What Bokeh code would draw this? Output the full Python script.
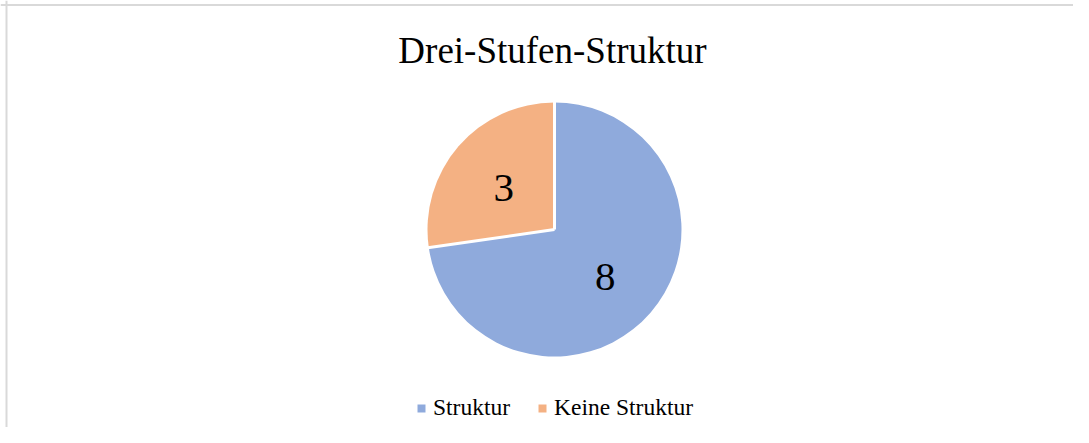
import numpy as np
from bokeh.plotting import figure
from bokeh.models import Range1d, ColumnDataSource, Label, Legend, LegendItem, Span
from bokeh.embed import file_html
from bokeh.resources import INLINE
from bokeh.core.properties import value

# ---- data ----
title_text = "Drei-Stufen-Struktur"
categories = ["Struktur", "Keine Struktur"]
counts = [8, 3]
colors = ["#8FAADC", "#F4B183"]

# ---- layout (pixel coordinates; y measured downward from the top) ----
W, H = 1073, 427


def py(y):
    return H - y


FONT = "Liberation Serif"
cx, cy, R = 554, py(229), 127

p = figure(width=W, height=H,
           x_range=Range1d(0, W), y_range=Range1d(0, H),
           output_backend="svg", toolbar_location=None, min_border=0,
           x_axis_location=None, y_axis_location=None,
           outline_line_color=None, background_fill_color="white",
           border_fill_color="white")
p.grid.visible = False

# chart border (top and left visible in the reference)
p.add_layout(Span(location=py(4.5), dimension="width", line_color="#D9D9D9", line_width=2))
p.add_layout(Span(location=6, dimension="height", line_color="#D9D9D9", line_width=2))

total = float(sum(counts))
cum = np.concatenate([[0.0], np.cumsum(counts)]) / total * 2 * np.pi
start = np.pi / 2 - cum[:-1]
end = np.pi / 2 - cum[1:]
mid = (start + end) / 2

src = ColumnDataSource(dict(
    cat=categories, val=counts, color=colors,
    start=start, end=end,
    lx=cx + 0.53 * R * np.cos(mid), ly=cy + 0.53 * R * np.sin(mid) - 3,
    label=[str(v) for v in counts],
))

wedges = p.wedge(x=cx, y=cy, radius=R, start_angle="start", end_angle="end",
                 direction="clock", fill_color="color", line_color=None, source=src)

# white separators between slices
p.ray(x=cx, y=cy, length=R + 1, angle=start, line_color="white", line_width=3)

p.text(x="lx", y="ly", text="label", source=src,
       text_font=value(FONT), text_font_size="41px",
       text_align="center", text_baseline="middle", text_color="black")

p.add_layout(Label(x=552, y=py(50), text=title_text, text_font=FONT,
                   text_font_size="37px", text_align="center",
                   text_baseline="middle", text_color="black"))

legend = Legend(
    items=[LegendItem(label=c, renderers=[wedges], index=i) for i, c in enumerate(categories)],
    orientation="horizontal", location=(416, 6),
    glyph_width=10, glyph_height=10, label_standoff=7, spacing=27,
    padding=0, margin=0, border_line_color=None, background_fill_alpha=0,
    label_text_font=FONT, label_text_font_size="23.5px", label_text_color="black",
)
p.add_layout(legend, "center")

open("out.html", "w").write(file_html(p, INLINE))
